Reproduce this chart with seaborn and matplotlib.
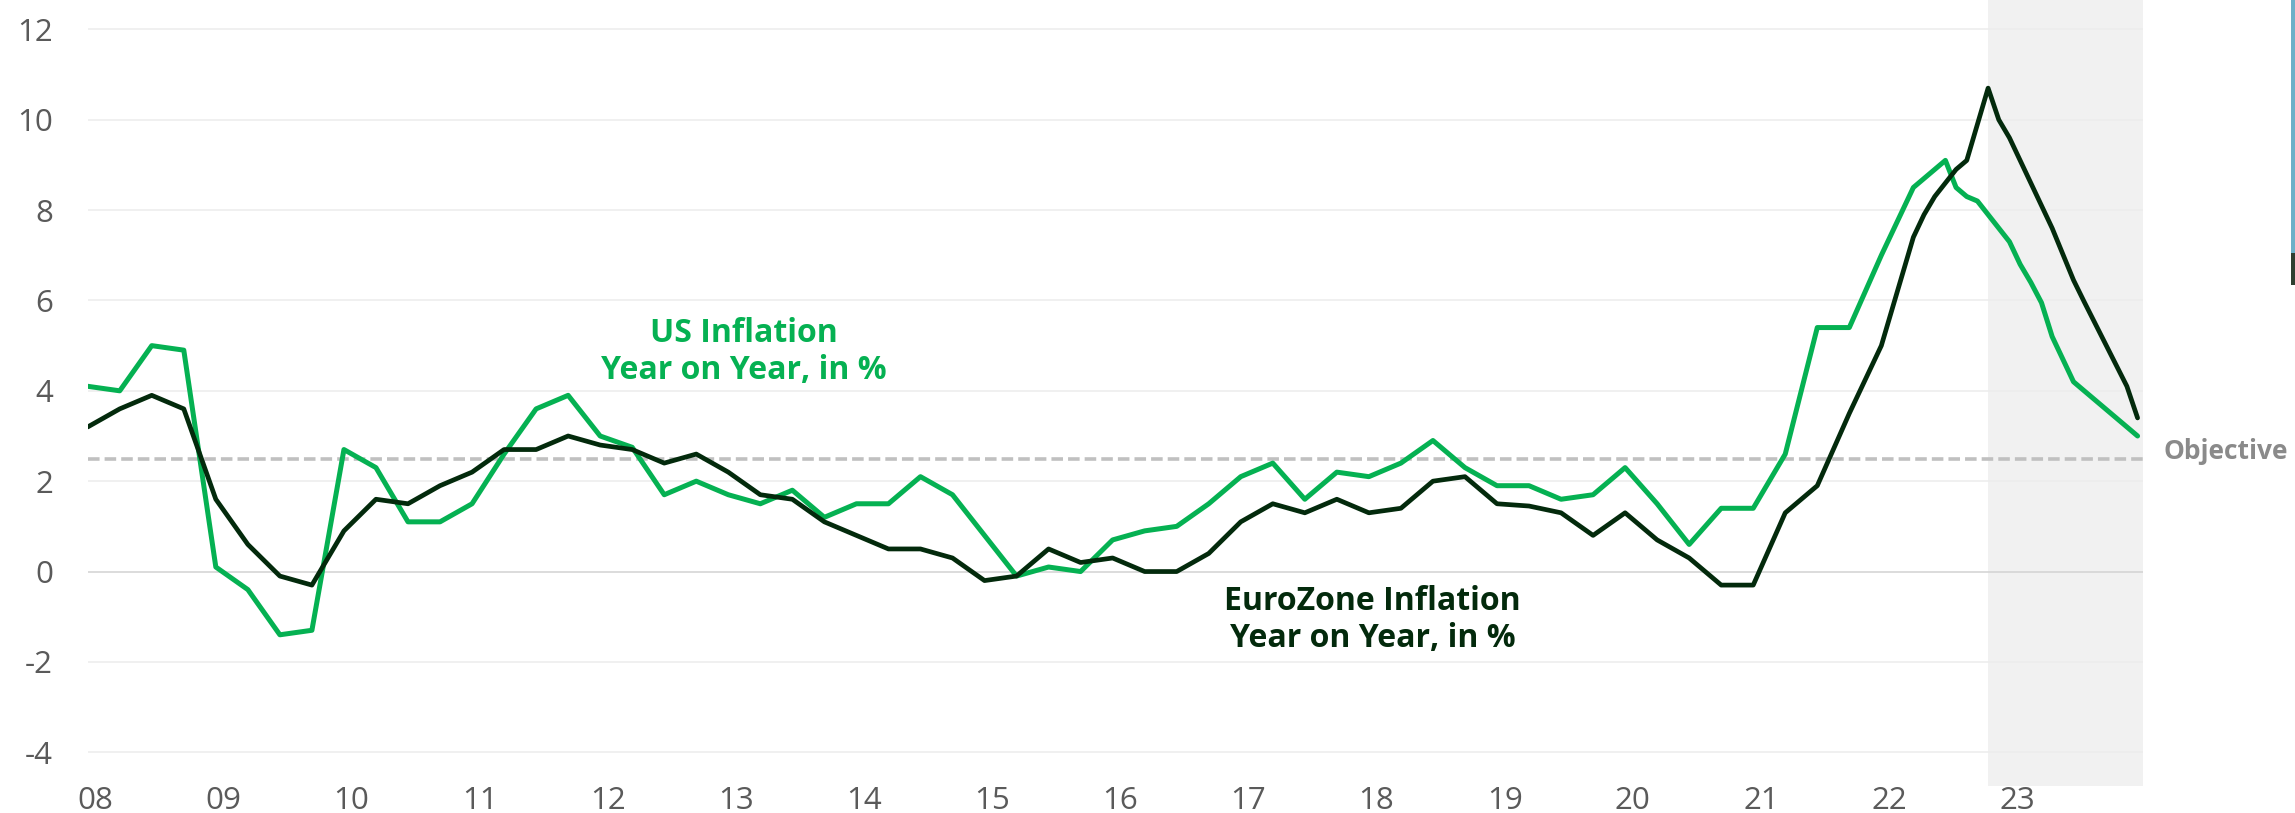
import pandas as pd
import matplotlib.pyplot as plt
import matplotlib.patches as mpatches
import seaborn as sns

# quarterly readings, then monthly points for the end of the chart
us_quarterly = [4.1, 4.0, 5.0, 4.9,
                0.1, -0.4, -1.4, -1.3,
                2.7, 2.3, 1.1, 1.1,
                1.5, 2.6, 3.6, 3.9,
                3.0, 2.75, 1.7, 2.0,
                1.7, 1.5, 1.8, 1.2,
                1.5, 1.5, 2.1, 1.7,
                0.8, -0.1, 0.1, 0.0,
                0.7, 0.9, 1.0, 1.5,
                2.1, 2.4, 1.6, 2.2,
                2.1, 2.4, 2.9, 2.3,
                1.9, 1.9, 1.6, 1.7,
                2.3, 1.5, 0.6, 1.4,
                1.4, 2.6, 5.4, 5.4,
                7.0, 8.5, 9.1]
us_tail_dates = ['2022-08', '2022-09', '2022-10', '2023-01', '2023-02', '2023-03',
                 '2023-04', '2023-05', '2023-07', '2024-01']
us_tail = [8.5, 8.3, 8.2, 7.3, 6.8, 6.4, 5.95, 5.2, 4.2, 3.0]

eu_quarterly = [3.2, 3.6, 3.9, 3.6,
                1.6, 0.6, -0.1, -0.3,
                0.9, 1.6, 1.5, 1.9,
                2.2, 2.7, 2.7, 3.0,
                2.8, 2.7, 2.4, 2.6,
                2.2, 1.7, 1.6, 1.1,
                0.8, 0.5, 0.5, 0.3,
                -0.2, -0.1, 0.5, 0.2,
                0.3, 0.0, 0.0, 0.4,
                1.1, 1.5, 1.3, 1.6,
                1.3, 1.4, 2.0, 2.1,
                1.5, 1.45, 1.3, 0.8,
                1.3, 0.7, 0.3, -0.3,
                -0.3, 1.3, 1.9, 3.5,
                5.0, 7.4]
eu_tail_dates = ['2022-05', '2022-06', '2022-07', '2022-08', '2022-09', '2022-11',
                 '2022-12', '2023-01', '2023-05', '2023-07', '2023-08', '2023-12', '2024-01']
eu_tail = [7.9, 8.3, 8.6, 8.9, 9.1, 10.7, 10.0, 9.6, 7.6, 6.45, 5.97, 4.1, 3.4]

years = list(range(2008, 2024))
year_labels = [str(y)[2:] for y in years]
objective = 2.5
forecast_start = '2022-11'

GREEN = '#05b152'
DARK = '#032a0c'


def to_year(d):
    d = pd.Timestamp(d)
    return d.year + (d.month - 1) / 12


us_dates = list(pd.date_range('2008-01-01', '2022-07-01', freq='QS')) + us_tail_dates
eu_dates = list(pd.date_range('2008-01-01', '2022-04-01', freq='QS')) + eu_tail_dates

us = pd.DataFrame({'t': [to_year(d) for d in us_dates], 'v': us_quarterly + us_tail})
eu = pd.DataFrame({'t': [to_year(d) for d in eu_dates], 'v': eu_quarterly + eu_tail})

sns.set_style('white')
plt.rcParams['font.family'] = ['Open Sans', 'DejaVu Sans']
plt.rcParams['axes.unicode_minus'] = False

fig = plt.figure(figsize=(22.95, 8.13), dpi=100)
ax = fig.add_axes([87.7 / 2295, 27.3 / 813, (2142.7 - 87.7) / 2295, 785.7 / 813])

x_end = 2024.04
ax.axvspan(to_year(forecast_start), x_end, color='#f1f1f1', lw=0, zorder=0)

for v in range(-4, 13, 2):
    ax.axhline(v, color='#d2d2d2' if v == 0 else '#ececec', lw=1.1, zorder=1)
ax.axhline(objective, color='#c0c0c0', lw=2.6, ls=(0, (3.2, 1.4)), zorder=2)

sns.lineplot(data=us, x='t', y='v', ax=ax, color=GREEN, linewidth=3.6, zorder=3)
sns.lineplot(data=eu, x='t', y='v', ax=ax, color=DARK, linewidth=3.4, zorder=4)

ax.set_xlim(2008, x_end)
ax.set_ylim(-4.74, 12.65)
ax.set_xticks([y + 0.06 for y in years])
ax.set_xticklabels(year_labels)
ax.set_yticks(range(-4, 13, 2))
ax.tick_params(axis='both', length=0, labelsize=22.5, labelcolor='#5a5a5a')
ax.tick_params(axis='y', pad=25)
ax.tick_params(axis='x', pad=0)
ax.set_xlabel('')
ax.set_ylabel('')
sns.despine(ax=ax, left=True, bottom=True)

ax.text(2013.12, 4.86, 'US Inflation\nYear on Year, in %', color=GREEN, fontsize=23,
        fontweight='bold', ha='center', va='center', multialignment='center', linespacing=1.15)
ax.text(2018.03, -1.08, 'EuroZone Inflation\nYear on Year, in %', color=DARK, fontsize=23,
        fontweight='bold', ha='center', va='center', multialignment='center', linespacing=1.15)
ax.text(1.01, objective, 'Objective', transform=ax.get_yaxis_transform(), color='#8a8a8a',
        fontsize=19, fontweight='bold', ha='left', va='baseline')

# scrollbar strip at the right edge of the screenshot
fig.patches.append(mpatches.Rectangle((2291 / 2295, 1 - 253 / 813), 4 / 2295, 253 / 813,
                                      transform=fig.transFigure, color='#6cb0c8', lw=0))
fig.patches.append(mpatches.Rectangle((2291 / 2295, 1 - 285 / 813), 4 / 2295, 32 / 813,
                                      transform=fig.transFigure, color='#2f3f30', lw=0))

fig.savefig('out.png', dpi=100)
